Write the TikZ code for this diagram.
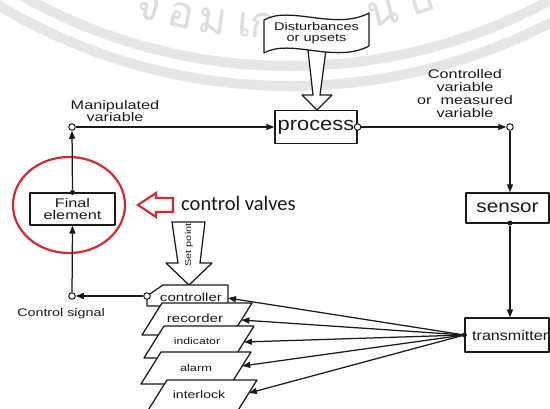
\documentclass[tikz,border=0pt]{standalone}
\usepackage{fontspec}
\setmainfont{Liberation Sans}
\newfontfamily\lab[FakeStretch=1.3]{Liberation Sans}
\newfontfamily\labm[FakeStretch=1.15]{Liberation Sans}
\newfontfamily\calib{Carlito}
\newfontfamily\thaifont[Script=Thai]{Loma}
\usetikzlibrary{arrows.meta,calc}

\definecolor{ink}{HTML}{1A1A1A}
\definecolor{wmband}{HTML}{E6E6E6}
\definecolor{wmletter}{HTML}{DDDDDD}
\definecolor{valvered}{HTML}{D42A33}

\tikzset{
  lbl/.style={inner sep=0pt, text=ink, align=center},
  box/.style={draw=ink, line width=1.25pt, fill=white, inner sep=0pt, line join=round},
  flow/.style={draw=ink, line width=1.25pt, -{Triangle[length=8pt,width=6pt]}},
  port/.style={circle, draw=ink, line width=1pt, fill=white, inner sep=0pt, minimum size=6.5pt},
  dot/.style={circle, fill=ink, inner sep=0pt, minimum size=5pt},
  seal/.style={draw=wmband, line width=10pt},
  sealtext/.style={inner sep=0pt, anchor=base, text=wmletter, font=\thaifont\fontsize{44}{44}\selectfont},
}

% parallelogram display box: top-left x, top y
\newcommand\displaybox[2]{%
  \path[box] (#1,#2) -- ++(90,0) -- ++(-20,32) -- ++(-90,0) -- cycle;}

\begin{document}
\begin{tikzpicture}[x=1pt,y=-1pt]
\useasboundingbox (0,0) rectangle (550,408);
\fill[white] (0,0) rectangle (550,408);

% faint seal in the background
\begin{scope}
  \clip (0,0) rectangle (550,408);
  \draw[seal] (290,-480) circle [radius=546];
  \draw[seal] (290,-480) circle [radius=566];
  \foreach \ch/\xx in {จ/145, อ/178, ม/211, เ/244, ก/263, น/386, บ/424} {
    \pgfmathsetmacro{\ang}{asin((\xx-275)/460)}
    \pgfmathsetmacro{\yy}{-422+460*cos(\ang)}
    \node[sealtext, rotate=\ang] at (\xx,\yy) {\ch};
  }
\end{scope}

% final control element, highlighted
\draw[valvered, line width=2.2pt] (69,205) ellipse [x radius=56, y radius=48];
\node[box, minimum width=85pt, minimum height=32pt, text=ink, align=center,
      font=\lab\fontsize{12.5}{12}\selectfont] (final) at (72.5,209) {Final\\element};
\draw[valvered, line width=2.2pt, line join=miter]
  (138,205) -- (156,193) -- (156,198) -- (173,198) -- (173,212) -- (156,212) -- (156,217) -- cycle;
\node[lbl, anchor=base west, font=\calib\fontsize{20.5}{22}\selectfont] (valves) at (181,210) {control valves};

% disturbance input
\draw[box] (308,50) -- (326,50) -- (320,95) -- (332,95) -- (317,110) -- (302,95) -- (313,95) -- cycle;
\path[box] (264,20) .. controls (290,5) and (335,31) .. (369,13) -- (369,46)
           .. controls (335,64) and (290,38) .. (264,53) -- cycle;
\node[lbl, font=\lab\fontsize{11.2}{11}\selectfont] (dist) at (316.5,33) {Disturbances\\or upsets};

% main loop blocks
\node[box, minimum width=82pt, minimum height=33pt, text=ink,
      font=\labm\fontsize{19}{20}\selectfont] (process) at (316,127) {process};
\node[box, minimum width=83pt, minimum height=30pt, text=ink,
      font=\labm\fontsize{18}{18}\selectfont] (sensor) at (507.5,208) {sensor};
\node[box, minimum width=84pt, minimum height=34pt] (transmitter) at (507,335) {};
\node[lbl, anchor=west, font=\labm\fontsize{14}{14}\selectfont] (trtext) at (472,335) {transmitter};

% signal labels
\node[lbl, font=\lab\fontsize{12.5}{12}\selectfont] (mvlabel) at (115,111) {Manipulated\\variable};
\node[lbl, font=\lab\fontsize{12.5}{13}\selectfont] (cvlabel) at (465,93.5)
  {Controlled\\variable\\or\ \ measured\\variable};
\node[lbl, font=\lab\fontsize{11}{11}\selectfont] (cslabel) at (61,314) {Control signal};

% set point input
\draw[box] (172,222) -- (205,222) -- (200,263) -- (212,263) -- (189,285) -- (166,263) -- (178,263) -- cycle;
\node[lbl, rotate=90, font=\lab\fontsize{8.4}{9}\selectfont] (sp) at (189,245) {Set point};

% controller and display stack
\path[box] (147,296) -- (163,285) -- (228,285) -- (228,306) -- (147,306) -- cycle;
\node[lbl, font=\lab\fontsize{11.6}{12}\selectfont] (controller) at (191,297) {controller};
\displaybox{162}{303}
\node[lbl, font=\lab\fontsize{11.6}{12}\selectfont] (recorder) at (195,318) {recorder};
\displaybox{164}{326}
\node[lbl, font=\lab\fontsize{9.4}{10}\selectfont] (indicator) at (197,341) {indicator};
\displaybox{161}{352}
\node[lbl, font=\lab\fontsize{9.8}{10}\selectfont] (alarm) at (196,368) {alarm};
\displaybox{167}{380}
\node[lbl, font=\lab\fontsize{10.8}{11}\selectfont] (interlock) at (199,395) {interlock};

\coordinate (ctrlIn) at (228,298);
\coordinate (recIn) at (241.4,320);
\coordinate (indIn) at (244,342);
\coordinate (almIn) at (242.2,366);
\coordinate (intIn) at (248.9,393);

% ports and junction dots
\node[port] (mv) at (72,127) {};
\node[port] (pout) at (process.east) {};
\node[port] (cv) at (510,127) {};
\node[dot] (feTop) at (final.north) {};
\node[dot] (sensBot) at (510,223) {};
\node[dot] (trIn) at (transmitter.west) {};
\node[port] (ctrlOut) at (147,296) {};
\node[port] (cs) at (72,296) {};

% signal flow
\draw[flow] (feTop) -- (mv);
\draw[flow] (mv) -- (process.west);
\draw[flow] (pout) -- (cv);
\draw[flow] (cv) -- (cv |- sensor.north);
\draw[flow] (sensBot) -- (sensBot |- transmitter.north);
\draw[flow] (ctrlOut) -- (cs);
\draw[flow] (cs) -- (final.south);
\foreach \t in {ctrlIn, recIn, indIn, almIn, intIn}
  \draw[flow] (trIn) -- (\t);
\end{tikzpicture}
\end{document}
